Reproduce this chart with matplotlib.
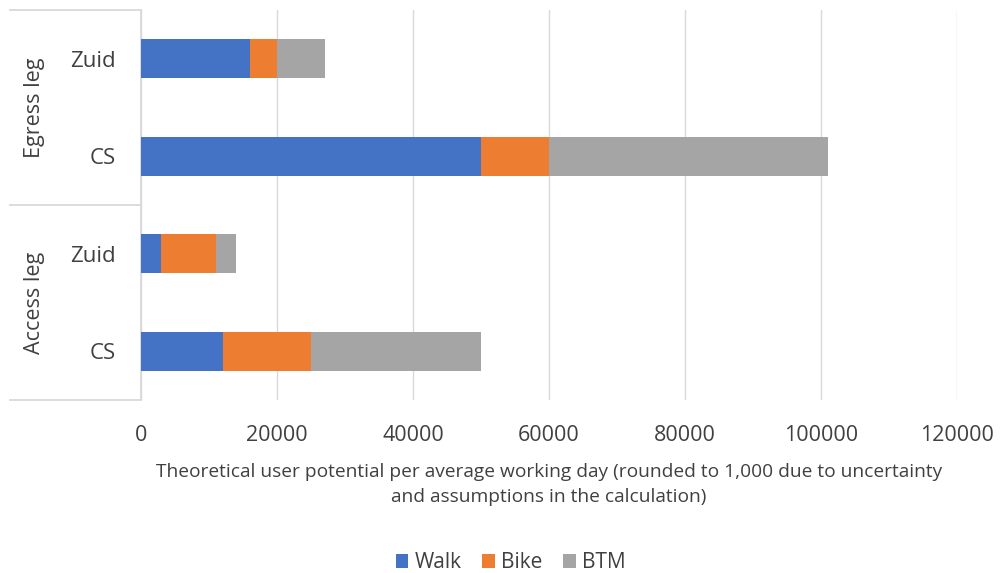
import matplotlib.pyplot as plt
import numpy as np

plt.rcParams["font.family"] = ["Open Sans", "DejaVu Sans"]

# bottom to top
groups = ["Access leg", "Egress leg"]
stations = ["CS", "Zuid", "CS", "Zuid"]
walk = [12000, 3000, 50000, 16000]
bike = [13000, 8000, 10000, 4000]
btm = [25000, 3000, 41000, 7000]

modes = ["Walk", "Bike", "BTM"]
colors = ["#4472C4", "#ED7D31", "#A5A5A5"]
grid_col = "#D9D9D9"
text_col = "#404040"

fig = plt.figure(figsize=(10, 5.73), dpi=100)
ax = fig.add_axes([0.141, 0.302, 0.816, 0.6805])

y = np.arange(len(stations))
left = np.zeros(len(stations))
for vals, name, col in zip([walk, bike, btm], modes, colors):
    ax.barh(y, vals, left=left, height=0.4, color=col, label=name, zorder=3)
    left += np.array(vals)

ax.set_xlim(0, 120000)
ax.set_ylim(-0.5, 3.5)
ax.set_xticks(np.arange(0, 120001, 20000))
ax.tick_params(axis="x", length=0, labelsize=15.5, labelcolor=text_col, pad=18)
ax.tick_params(axis="y", length=0, labelsize=16, labelcolor=text_col, pad=18)
ax.set_yticks(y)
ax.set_yticklabels(stations)
ax.grid(axis="x", color=grid_col, linewidth=1, zorder=0)
for s in ["top", "right", "bottom"]:
    ax.spines[s].set_visible(False)
ax.spines["left"].set_color(grid_col)
ax.spines["left"].set_linewidth(1.3)

# group brackets on the left
trans = ax.get_yaxis_transform()
x0 = -131 / 816
for yy in [-0.5, 1.5, 3.5]:
    ax.plot([x0, 0], [yy, yy], color=grid_col, lw=1.3, transform=trans, clip_on=False)
for i, g in enumerate(groups):
    ax.text(-106 / 816, 2 * i + 0.5, g, rotation=90, ha="center", va="center",
            fontsize=15.5, color=text_col, transform=trans)

ax.set_xlabel("Theoretical user potential per average working day (rounded to 1,000 due to uncertainty\nand assumptions in the calculation)",
              fontsize=13.8, color=text_col, labelpad=12, linespacing=1.55)

ax.legend(loc="center", bbox_to_anchor=(0.453, -0.418), ncol=3, frameon=False,
          fontsize=15, handlelength=0.6, handleheight=0.6, handletextpad=0.3,
          columnspacing=1.0, labelcolor=text_col)

fig.savefig("out.png", dpi=100)
